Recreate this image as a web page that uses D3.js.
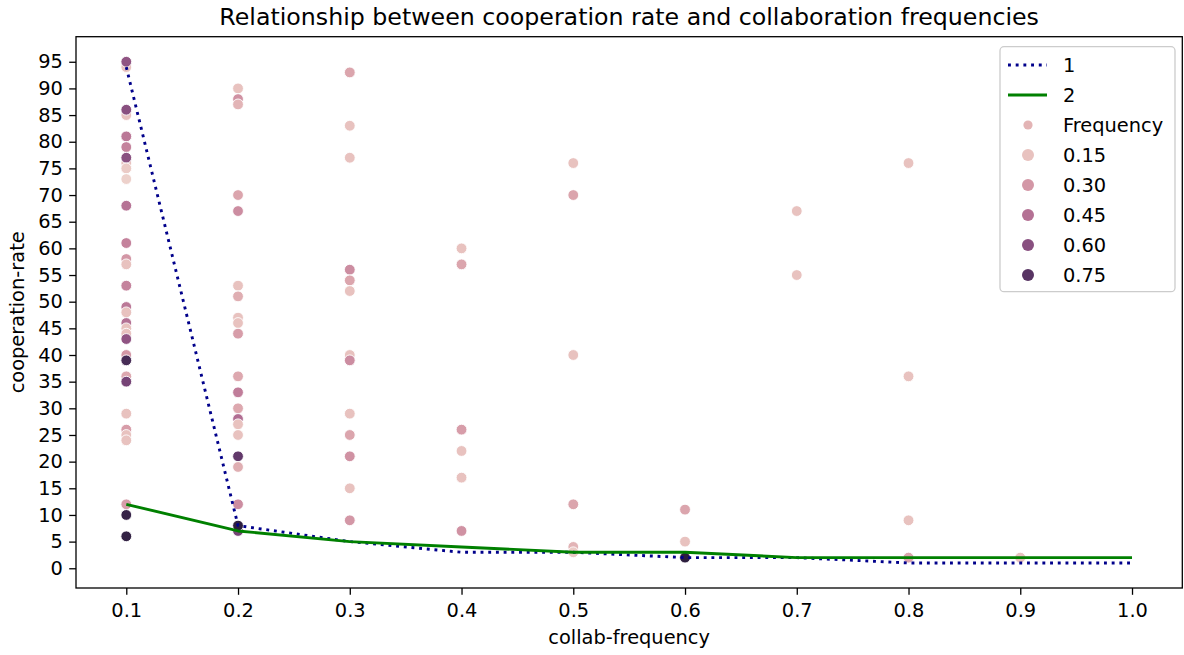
<!DOCTYPE html>
<html>
<head>
<meta charset="utf-8">
<script src="https://cdn.jsdelivr.net/npm/d3@7"></script>
<style>
  html, body { margin: 0; padding: 0; background: #ffffff; }
  svg { display: block; font-family: "DejaVu Sans", sans-serif; }
</style>
</head>
<body>
<svg id="chart" width="1184" height="655"></svg>
<script>
// ---- data -------------------------------------------------------------
// scatter: collaboration frequency (x), cooperation rate (y), Frequency (hue)
const collabFreq = [
  0.1,0.1,0.1,0.1,0.1,0.1,0.1,0.1,0.1,0.1,0.1,0.1,0.1,0.1,0.1,0.1,
  0.1,0.1,0.1,0.1,0.1,0.1,0.1,0.1,0.1,0.1,0.1,0.1,0.1,0.1,0.1,0.1,
  0.2,0.2,0.2,0.2,0.2,0.2,0.2,0.2,0.2,0.2,0.2,0.2,0.2,0.2,0.2,0.2,
  0.2,0.2,0.2,0.2,0.2,
  0.3,0.3,0.3,0.3,0.3,0.3,0.3,0.3,0.3,0.3,0.3,0.3,0.3,
  0.4,0.4,0.4,0.4,0.4,0.4,
  0.5,0.5,0.5,0.5,0.5,0.5,
  0.6,0.6,0.6,
  0.7,0.7,
  0.8,0.8,0.8,0.8,
  0.9
];
const coopRate = [
  94,95,85,86,81,79,76,77,75,73,68,61,58,57,53,49,
  48,46,45,44,43,40,39,36,35,29,26,25,24,12,10,6,
  90,88,87,70,67,53,51,47,46,44,36,33,30,28,27,25,
  21,19,12,7,8,
  93,83,77,56,54,52,40,39,29,25,21,15,9,
  60,57,26,22,17,7,
  76,70,40,12,4,3,
  11,5,2,
  67,55,
  76,36,9,2,
  2
];
const frequency = [
  0.15,0.58,0.15,0.60,0.42,0.38,0.15,0.60,0.12,0.10,0.44,0.38,0.30,0.15,0.38,0.42,
  0.15,0.45,0.15,0.15,0.58,0.30,0.80,0.24,0.66,0.15,0.28,0.15,0.15,0.28,0.85,0.86,
  0.15,0.32,0.20,0.25,0.34,0.15,0.22,0.15,0.15,0.28,0.24,0.40,0.24,0.46,0.15,0.15,
  0.72,0.22,0.34,0.66,0.88,
  0.25,0.15,0.15,0.34,0.25,0.15,0.15,0.34,0.15,0.25,0.32,0.15,0.30,
  0.15,0.25,0.28,0.15,0.15,0.32,
  0.15,0.25,0.15,0.25,0.20,0.12,
  0.25,0.15,0.88,
  0.15,0.15,
  0.15,0.15,0.15,0.25,
  0.15
];

// two summary lines over the same x positions
const lineX = [0.1, 0.2, 0.3, 0.4, 0.5, 0.6, 0.7, 0.8, 0.9, 1.0];
const line1 = [94, 8, 5, 3, 3, 2, 2, 1, 1, 1];
const line2 = [12, 7, 5, 4, 3, 3, 2, 2, 2, 2];
const lineNames = ["1", "2"];

// axis ticks
const xTicks = [0.1, 0.2, 0.3, 0.4, 0.5, 0.6, 0.7, 0.8, 0.9, 1.0];
const yTicks = d3.range(0, 100, 5);
const legendLevels = [0.15, 0.30, 0.45, 0.60, 0.75];

// ---- layout -----------------------------------------------------------
const plot = { left: 76, right: 1182.3, top: 36.7, bottom: 588 };
const svg = d3.select("#chart");

const x = d3.scaleLinear().domain([0.055, 1.045]).range([plot.left, plot.right]);
const y = d3.scaleLinear().domain([-3.7, 99.7]).range([plot.bottom, plot.top]);

// seaborn-style cubehelix ramp (start 0, rot .4, hue .8, light .85 -> dark .15)
function cubehelix(v) {
  const start = 0, rot = 0.4, gamma = 1, hue = 0.8;
  const xg = Math.pow(v, gamma);
  const a = hue * xg * (1 - xg) / 2;
  const phi = 2 * Math.PI * (start / 3 + rot * v);
  const c = Math.cos(phi), s = Math.sin(phi);
  const clip = t => Math.max(0, Math.min(1, t));
  const r = clip(xg + a * (-0.14861 * c + 1.78277 * s));
  const g = clip(xg + a * (-0.29227 * c - 0.90649 * s));
  const b = clip(xg + a * (1.97294 * c));
  return d3.rgb(r * 255, g * 255, b * 255).formatHex();
}
const hueLevel = d3.scaleLinear().domain(d3.extent(frequency)).range([0.85, 0.15]);
const hueColor = f => cubehelix(hueLevel(f));

const font = "DejaVu Sans, sans-serif";
const baseSize = 19.4;     // tick, axis-label and legend text
const titleSize = 23.7;
const lineWidth = 2.9;
const dotted = "2.9,4.8";

// ---- scatter ----------------------------------------------------------
const points = collabFreq.map((cx, i) => ({ cx, cy: coopRate[i], f: frequency[i] }));
svg.append("g")
  .selectAll("circle")
  .data(points)
  .join("circle")
  .attr("cx", d => x(d.cx))
  .attr("cy", d => y(d.cy))
  .attr("r", 5.4)
  .attr("fill", d => hueColor(d.f))
  .attr("stroke", "#ffffff")
  .attr("stroke-width", 0.9);

// ---- lines ------------------------------------------------------------
const lineGen = d3.line().x(d => x(d[0])).y(d => y(d[1]));
const series = [
  { name: lineNames[0], values: line1, color: "#00008b", dash: dotted },
  { name: lineNames[1], values: line2, color: "#008000", dash: null }
];
series.forEach(s => {
  svg.append("path")
    .datum(lineX.map((lx, i) => [lx, s.values[i]]))
    .attr("d", lineGen)
    .attr("fill", "none")
    .attr("stroke", s.color)
    .attr("stroke-width", lineWidth)
    .attr("stroke-linejoin", "round")
    .attr("stroke-dasharray", s.dash);
});

// ---- axes -------------------------------------------------------------
const xAxis = svg.append("g")
  .attr("transform", `translate(0,${plot.bottom})`)
  .call(d3.axisBottom(x).tickValues(xTicks).tickFormat(d3.format(".1f"))
    .tickSize(6.8).tickPadding(8.2).tickSizeOuter(0));
const yAxis = svg.append("g")
  .attr("transform", `translate(${plot.left},0)`)
  .call(d3.axisLeft(y).tickValues(yTicks).tickFormat(d3.format("d"))
    .tickSize(6.8).tickPadding(6.4).tickSizeOuter(0));
[xAxis, yAxis].forEach(g => {
  g.select(".domain").remove();
  g.selectAll("line").attr("stroke", "#000").attr("stroke-width", 1.3);
  g.selectAll("text").attr("font-size", baseSize).attr("font-family", font).attr("fill", "#000");
});

// frame
svg.append("rect")
  .attr("x", plot.left).attr("y", plot.top)
  .attr("width", plot.right - plot.left).attr("height", plot.bottom - plot.top)
  .attr("fill", "none").attr("stroke", "#000").attr("stroke-width", 1.3);

// ---- labels -----------------------------------------------------------
svg.append("text")
  .attr("x", (plot.left + plot.right) / 2).attr("y", 25)
  .attr("text-anchor", "middle").attr("font-size", titleSize).attr("font-family", font)
  .text("Relationship between cooperation rate and collaboration frequencies");
svg.append("text")
  .attr("x", (plot.left + plot.right) / 2).attr("y", 644)
  .attr("text-anchor", "middle").attr("font-size", baseSize).attr("font-family", font)
  .text("collab-frequency");
svg.append("text")
  .attr("transform", `translate(24,${(plot.top + plot.bottom) / 2}) rotate(-90)`)
  .attr("text-anchor", "middle").attr("font-size", baseSize).attr("font-family", font)
  .text("cooperation-rate");

// ---- legend -----------------------------------------------------------
const legend = svg.append("g");
legend.append("rect")
  .attr("x", 1000).attr("y", 46.7).attr("width", 175).attr("height", 245)
  .attr("rx", 4).attr("fill", "#ffffff").attr("fill-opacity", 0.8)
  .attr("stroke", "#cccccc").attr("stroke-width", 1.3);

const rowY = i => 65 + 30 * i;
const textDy = 7;
series.forEach((s, i) => {
  legend.append("line")
    .attr("x1", 1008).attr("x2", 1047).attr("y1", rowY(i)).attr("y2", rowY(i))
    .attr("stroke", s.color).attr("stroke-width", lineWidth).attr("stroke-dasharray", s.dash);
  legend.append("text").attr("x", 1063).attr("y", rowY(i) + textDy)
    .attr("font-size", baseSize).attr("font-family", font).text(s.name);
});
legend.append("circle").attr("cx", 1028).attr("cy", rowY(2)).attr("r", 4.6)
  .attr("fill", "#e3b4b5");
legend.append("text").attr("x", 1063).attr("y", rowY(2) + textDy)
  .attr("font-size", baseSize).attr("font-family", font).text("Frequency");
legendLevels.forEach((lv, i) => {
  legend.append("circle").attr("cx", 1028).attr("cy", rowY(3 + i)).attr("r", 6)
    .attr("fill", hueColor(lv));
  legend.append("text").attr("x", 1063).attr("y", rowY(3 + i) + textDy)
    .attr("font-size", baseSize).attr("font-family", font).text(d3.format(".2f")(lv));
});
</script>
</body>
</html>
